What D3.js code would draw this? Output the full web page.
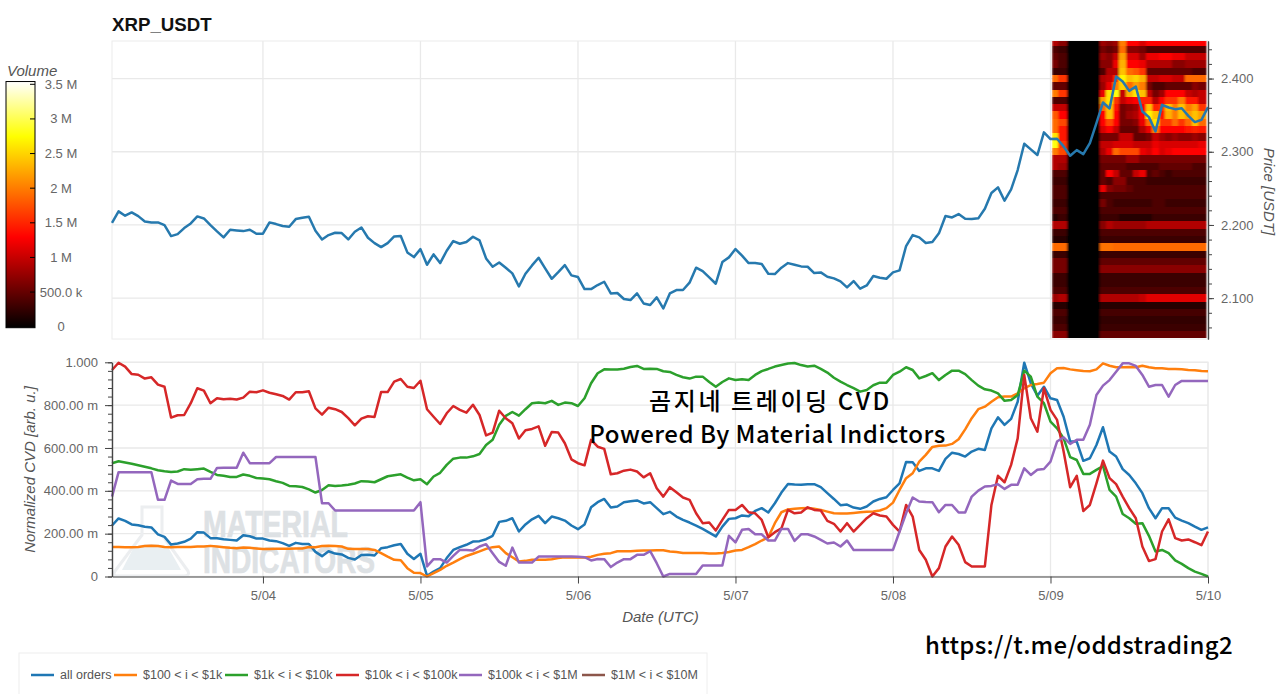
<!DOCTYPE html>
<html>
<head>
<title>XRP_USDT</title>
<meta charset="UTF-8">
<script src="https://d3js.org/d3.v7.min.js"></script>
<style>
	body { margin:0; background:#fff; }
	svg { display:block; }
	text { font-family:"Liberation Sans",Arial,sans-serif; }
	.tick text { font-size:13px; fill:#666; }
	.axis-title { font-size:15px; font-style:italic; fill:#555; }
	.legend-label { font-size:12.5px; fill:#555; }
	.overlay { font-family:"Noto Sans CJK KR","Noto Sans",sans-serif; font-weight:500; fill:#000; }
</style>
</head>
<body>
<script>
// hourly closes, first point is 5/03 01:00 UTC
var price = [2.203,2.2185,2.2126,2.2171,2.2121,2.2048,2.2035,2.2035,2.1998,2.1848,2.1875,2.1957,2.2021,2.2117,2.2089,2.1998,2.1912,2.183,2.1934,2.1925,2.1916,2.1934,2.188,2.188,
	2.2035,2.2012,2.1985,2.1975,2.208,2.2098,2.2112,2.1921,2.1802,2.1862,2.1894,2.1889,2.1802,2.1907,2.1966,2.1825,2.1752,2.1698,2.1752,2.1843,2.1848,2.1625,2.1561,2.167,
	2.1456,2.1598,2.1479,2.1648,2.178,2.1743,2.1766,2.1839,2.1789,2.1543,2.1429,2.1488,2.1415,2.1338,2.116,2.1333,2.1447,2.1552,2.1406,2.1265,2.1356,2.1452,2.1311,2.1288,
	2.1124,2.1124,2.1179,2.1224,2.1065,2.107,2.0988,2.0974,2.1065,2.0928,2.0906,2.101,2.086,2.1065,2.1111,2.1111,2.1211,2.1416,2.137,2.1284,2.1197,2.1493,2.1557,2.1671,
	2.158,2.1479,2.1479,2.1466,2.1334,2.1329,2.1416,2.1479,2.1457,2.1434,2.1429,2.1343,2.1352,2.1293,2.127,2.1229,2.1147,2.1234,2.1129,2.1174,2.1302,2.1279,2.1265,2.1352,
	2.1379,2.1712,2.1862,2.183,2.1753,2.1766,2.1885,2.2122,2.2103,2.2149,2.2085,2.2081,2.209,2.2222,2.2436,2.2513,2.2331,2.2486,2.275,2.311,2.3032,2.2955,2.3265,
	2.3173,2.3177,2.3073,2.2945,2.3023,2.2968,2.3118,2.3391,2.3673,2.3591,2.4027,2.3959,2.3832,2.3891,2.355,2.3473,2.3277,2.3641,2.3605,2.3582,2.3595,2.3491,2.3405,2.3436,2.3609];

// normalized CVD, in milli units
var allOrders = [238,271,260,243,239,232,229,197,185,149,154,162,177,207,205,179,179,174,171,168,193,188,177,177,168,165,156,143,157,152,152,115,95,118,107,103,87,79,100,101,98,132,137,146,152,106,82,106,
	3,23,39,86,124,137,148,163,165,174,190,255,260,272,210,243,267,283,249,280,272,261,238,221,243,323,347,362,322,327,347,351,355,341,347,319,291,302,280,264,252,238,222,205,187,233,269,272,285,
	281,306,319,299,342,392,432,429,428,431,431,417,389,362,333,336,322,316,327,350,362,370,404,435,535,533,493,505,505,493,549,578,572,560,583,
	596,591,692,743,708,736,816,998,902,844,886,832,824,746,630,630,540,552,614,697,583,560,501,474,435,389,319,272,319,319,275,261,249,233,218,229];
var from100 = [138,138,137,137,138,142,143,142,138,137,138,138,138,140,140,143,140,137,134,132,135,134,131,128,128,129,129,129,131,131,138,137,142,143,142,140,129,128,128,128,124,109,93,78,76,39,17,16,
	0,16,31,50,65,81,96,106,117,129,137,140,109,90,70,73,78,78,78,81,86,90,89,90,89,92,101,106,109,118,118,118,120,121,121,123,123,117,114,110,110,110,110,107,107,110,114,121,124,
	137,151,168,183,249,300,313,316,319,320,316,311,303,295,294,294,297,300,302,303,308,319,345,404,459,482,536,568,605,610,611,619,641,687,739,
	781,793,816,837,840,840,855,879,894,899,905,949,972,973,967,963,959,958,967,995,984,977,977,978,977,984,977,972,972,969,969,967,964,963,959,958];
var from1k = [529,538,532,526,519,512,505,496,491,488,490,501,498,501,504,488,474,470,465,465,476,470,460,457,454,445,437,423,421,418,407,392,404,426,423,425,428,434,445,443,440,454,468,473,477,462,449,454,
	431,467,484,521,550,555,555,561,572,614,638,708,750,768,751,781,809,812,809,820,801,812,809,796,832,902,949,967,966,966,970,978,983,969,970,969,958,955,941,930,924,933,933,908,886,908,925,917,921,
	917,941,959,969,980,987,994,997,987,980,984,969,952,928,910,894,879,863,871,893,905,905,941,956,977,964,925,936,949,917,941,961,961,945,917,
	891,874,868,855,820,824,847,961,933,840,809,723,692,645,557,544,479,479,498,516,404,373,292,272,246,249,190,117,124,109,75,59,39,23,12,0];
var from10k = [964,998,980,945,942,924,930,896,886,742,753,754,809,879,868,809,832,827,830,826,835,863,860,869,858,851,843,826,860,860,865,785,756,788,781,768,739,706,737,748,745,861,861,910,922,886,880,914,
	781,746,712,762,796,778,765,802,754,659,672,774,739,715,644,683,689,701,610,675,672,622,547,529,519,638,606,596,477,482,494,499,490,463,482,412,373,417,393,369,358,295,249,252,215,264,311,311,334,
	300,295,264,183,207,225,311,295,299,323,311,308,260,246,210,249,210,241,272,295,285,280,241,210,334,280,124,78,0,39,140,187,148,67,47,
	47,47,334,470,440,521,645,941,739,676,879,778,731,583,417,470,306,334,435,541,459,431,373,319,272,140,72,81,210,267,179,168,173,160,146,210];
var from100k = [373,487,487,487,487,487,487,358,358,448,432,432,432,454,456,456,507,508,508,508,578,529,529,529,529,558,558,558,558,558,558,558,342,342,308,308,308,308,308,308,308,308,308,308,308,308,308,347,
	47,81,81,65,96,124,124,121,140,151,109,68,50,135,65,65,65,93,93,93,93,93,93,92,90,75,82,81,44,65,81,81,101,101,118,62,0,12,12,12,12,12,51,51,51,51,190,159,218,
	222,197,197,168,168,222,222,166,197,197,187,171,154,159,140,168,124,124,124,124,124,124,124,210,295,369,350,348,347,300,334,334,299,299,373,
	401,420,423,431,409,428,428,505,474,498,502,536,630,650,619,638,638,708,847,891,917,956,995,995,983,941,886,894,894,840,894,913,913,913,913,913];

var seriesNames = ["all orders","$100 < i < $1k","$1k < i < $10k","$10k < i < $100k","$100k < i < $1M","$1M < i < $10M"];
var seriesColors = ["#1f77b4","#ff7f0e","#2ca02c","#d62728","#9467bd","#8c564b"];
var cvdSeries = [allOrders,from100,from1k,from10k,from100k];

var priceTicks = [2.1,2.2,2.3,2.4];
var cvdTicks = [0,200,400,600,800,1000];
var cvdLabels = ["0","200.00 m","400.00 m","600.00 m","800.00 m","1.000"];
var dayTicks = ["2025-05-04","2025-05-05","2025-05-06","2025-05-07","2025-05-08","2025-05-09","2025-05-10"];
var volumeTicks = [0,.5,1,1.5,2,2.5,3,3.5];
var volumeLabels = ["0","500.0 k","1 M","1.5 M","2 M","2.5 M","3 M","3.5 M"];

// order book heat, hours since the first point for column edges, million USDT per price level
var heatEdges = [143.2,144.2,145.5,150.5,151.5,152.5,153.5,154.5,155.5,156.5,157.5,158.5,159.5,160.5,161.5,162.5,163.5,164.5,165.5,166.8];
var heatLevels = [2.45,2.44,2.43,2.42,2.41,2.40,2.39,2.38,2.37,2.36,2.35,2.34,2.33,2.32,2.31,2.30,2.29,2.28,2.27,2.26,2.25,2.24,2.23,2.22,2.21,2.20,2.19,2.18,2.17,2.16,2.15,2.14,2.13,2.12,2.11,2.10,2.09,2.08,2.07,2.06,2.05];
var heatVolume = [
	[.9,.7,.03,.8,.7,.8,2,1.3,1.3,1.1,1.3,1.3,1.3,1.3,1.3,1.3,1.3,1.3,1.3],
	[.4,.3,.03,.6,.5,.6,1.9,.7,.7,.6,.4,.4,.4,.4,.4,.4,.4,.4,.4],
	[.5,.4,.03,.8,.7,1,2.2,1.1,1.1,.8,1.2,1.2,1.3,1.3,1.2,1.2,1,1,1],
	[.6,.4,.03,.7,.7,1.2,2.3,1.3,1.3,1.2,.9,.9,.9,.9,.7,.7,.8,.8,.8],
	[.3,.3,.03,.4,.9,.9,2.4,1.9,1.8,1.6,.5,.5,.5,.5,.5,.5,.5,.4,.4],
	[1.9,1.6,.03,.9,1,1.5,2.7,2.4,2.5,2.3,1,1,1.1,1.1,1,1,1.9,1.9,1.9],
	[.5,.5,.03,.8,1.2,2,2.5,1.9,2.2,2,.6,.4,.4,.5,.5,.5,.5,.7,.6],
	[2,1.6,.03,1.2,2.6,2.8,1,2.3,2.6,2.4,1,.6,.8,1.3,1.3,1.3,1,.9,1],
	[.4,.4,.03,2.2,2.6,1.6,1,1.2,1.3,1.5,1.5,.9,1.3,1.6,1.6,2,1.4,1.4,1],
	[1,1,.03,1.9,2.4,1.4,.6,.7,.8,1.3,2.4,1.5,1.6,2.4,2,2.4,2,2.2,1.6],
	[1.8,1.3,.03,1.3,2.4,1.3,.6,.8,.9,1.3,2.7,2.4,1.4,2.3,2,2.4,2.2,2.4,2.2],
	[1.9,1.7,.03,1.3,1.7,1.3,.6,.6,.7,1.2,1.9,2.6,1.6,1.6,1.9,1.6,1.9,2.4,1.9],
	[1.9,1.4,.03,1.1,1.3,1,.5,.5,.5,.9,1.2,2,1.3,1.3,1.3,1.3,1.4,1.5,1.4],
	[2.6,1.4,.03,.6,.6,.6,1,1,.5,.5,.6,1,.8,.7,.8,.7,.7,.8,.7],
	[2.8,1.6,.03,1,1,1.1,1.1,1.1,1,1,1,1.2,1.1,1.1,1.1,1.1,1.1,1.1,1.2],
	[2,1.7,.03,.9,1.2,1.9,1.7,1.7,1.7,1.2,1.1,1.3,1.1,1.2,1.3,1.3,1.3,1.3,1.3],
	[.9,.9,.03,.6,.6,.6,.6,.8,.8,.6,.6,.6,.6,.6,.6,.6,.6,.6,.6],
	[.9,.8,.03,.5,.5,.5,.5,.4,.4,.4,.4,.4,.5,.5,.5,.5,.5,.4,.4],
	[.4,.4,.03,.5,1.3,1,.5,.5,1,1.2,.4,.5,.4,.3,.4,.4,.4,.4,.4],
	[.3,.3,.03,.5,.4,.7,.7,.4,.4,.4,.3,.3,.3,.3,.3,.3,.3,.3,.3],
	[.4,.4,.03,1.2,.7,.6,.6,.5,.4,.4,.4,.4,.4,.4,.4,.4,.4,.4,.4],
	[.4,.4,.03,.4,.4,.4,.4,.4,.4,.4,.4,.4,.4,.4,.4,.4,.4,.4,.4],
	[.3,.3,.03,.6,.4,.3,.3,.3,.3,.3,.3,.4,.4,.3,.3,.3,.3,.3,.3],
	[.4,.4,.03,.4,.4,.4,.4,.4,.4,.4,.4,.4,.4,.4,.4,.4,.4,.4,.4],
	[.2,.3,.03,.3,.3,.3,.2,.2,.2,.2,.2,.3,.3,.3,.3,.3,.3,.3,.3],
	[.9,.9,.03,.7,.9,.8,.8,.8,.8,.8,.9,.9,.9,.9,.9,.9,.9,.9,.9],
	[.3,.3,.03,.4,.4,.4,.4,.4,.4,.4,.4,.4,.4,.4,.4,.4,.4,.4,.4],
	[.2,.2,.03,.3,.3,.3,.3,.3,.3,.3,.3,.3,.3,.3,.3,.3,.3,.3,.3],
	[1.9,1.9,.03,1.95,1.95,1.9,1.9,1.9,1.9,1.9,1.9,1.9,1.9,1.9,1.9,1.9,1.9,1.9,1.9],
	[.3,.3,.03,.3,.3,.3,.3,.3,.3,.3,.3,.3,.3,.3,.3,.3,.3,.3,.3],
	[.6,.6,.03,.5,.5,.5,.5,.5,.5,.5,.5,.5,.5,.5,.5,.5,.5,.5,.5],
	[.6,.6,.03,.7,.7,.7,.7,.7,.7,.7,.7,.7,.7,.7,.7,.7,.7,.7,.7],
	[.3,.3,.03,.3,.3,.3,.3,.3,.3,.3,.3,.3,.3,.3,.3,.3,.3,.3,.3],
	[.3,.3,.03,.3,.3,.3,.3,.3,.3,.3,.3,.3,.3,.3,.3,.3,.3,.3,.3],
	[.4,.4,.03,.4,.4,.4,.4,.4,.4,.4,.4,.4,.4,.4,.4,.4,.4,.4,.4],
	[.8,.9,.03,.9,.9,.9,.9,.9,.9,1,1.15,1.15,1.15,1.15,1.15,1.15,1.15,1.15,1.15],
	[.2,.2,.03,.2,.2,.2,.2,.2,.2,.2,.2,.2,.2,.2,.2,.2,.2,.2,.2],
	[.4,.4,.03,.35,.35,.35,.35,.35,.35,.35,.35,.35,.35,.35,.35,.35,.35,.35,.35],
	[.3,.3,.03,.25,.25,.25,.25,.25,.25,.25,.25,.25,.25,.25,.25,.25,.25,.25,.25],
	[.4,.4,.03,.3,.3,.3,.3,.3,.3,.3,.3,.3,.3,.3,.3,.3,.3,.3,.3],
	[.7,.7,.03,.5,.5,.5,.5,.5,.5,.5,.5,.5,.5,.5,.5,.5,.5,.5,.5]
];

var startTime = new Date(Date.UTC(2025,4,3,1));
function hourToDate(h) { return new Date(startTime.getTime() + h*3600000); }
var dayDates = dayTicks.map(function(d) { return new Date(d + "T00:00:00Z"); });

var svg = d3.select("body").append("svg").attr("width",1280).attr("height",694);

var x = d3.scaleUtc().domain([hourToDate(0),hourToDate(167)]).range([112,1208]);
var yPrice = d3.scaleLinear().domain([2.0442,2.4513]).range([339,41]);
var yCvd = d3.scaleLinear().domain([0,1000]).range([576.5,362.3]);
var heatColor = d3.scaleLinear().domain([0,1.3,2.75,3.54]).range(["#000000","#ff0000","#ffff00","#ffffff"]);

// panels and grid
function drawGrid(y,ticks,top,bottom) {
	var g = svg.append("g").attr("stroke","#e9e9e9").attr("stroke-width",1.3);
	g.selectAll(".h").data(ticks).enter().append("line")
		.attr("x1",112).attr("x2",1208).attr("y1",function(d) { return y(d); }).attr("y2",function(d) { return y(d); });
	g.selectAll(".v").data(dayDates).enter().append("line")
		.attr("y1",top).attr("y2",bottom).attr("x1",function(d) { return x(d); }).attr("x2",function(d) { return x(d); });
	svg.append("rect").attr("x",112).attr("y",top).attr("width",1096).attr("height",bottom-top)
		.attr("fill","none").attr("stroke","#ececec");
}
drawGrid(yPrice,priceTicks,41,339);
drawGrid(yCvd,cvdTicks,362,576.5);

// watermark
var mark = svg.append("g");
mark.append("path").attr("d","M142 507H162V535L188 571Q190 576 184 576H118Q112 576 115 571L142 535Z")
	.attr("fill","none").attr("stroke","#eceef0").attr("stroke-width",3);
mark.append("path").attr("d","M134 547Q150 541 168 547L181 570H122Z").attr("fill","#e9eff2");
mark.append("text").attr("x",203).attr("y",537).attr("textLength",145).attr("lengthAdjust","spacingAndGlyphs")
	.attr("fill","#dde1e4").attr("stroke","#dde1e4").attr("stroke-width",.7)
	.style("font-family","'Liberation Sans Narrow','Liberation Sans'").style("font-weight",700).style("font-size","36px").text("MATERIAL");
mark.append("text").attr("x",203).attr("y",573).attr("textLength",172).attr("lengthAdjust","spacingAndGlyphs")
	.attr("fill","#dde1e4").attr("stroke","#dde1e4").attr("stroke-width",.7)
	.style("font-family","'Liberation Sans Narrow','Liberation Sans'").style("font-weight",700).style("font-size","36px").text("INDICATORS");

// heat map, softened a little like the source
var soften = svg.append("filter").attr("id","soften").attr("x","-2%").attr("y","-2%").attr("width","104%").attr("height","104%");
soften.append("feGaussianBlur").attr("stdDeviation","0.9 0.4");
svg.append("clipPath").attr("id","priceClip").append("rect").attr("x",x(hourToDate(heatEdges[0]))).attr("y",41)
	.attr("width",x(hourToDate(heatEdges[19]))-x(hourToDate(heatEdges[0]))).attr("height",298);
var heatClip = svg.append("g").attr("clip-path","url(#priceClip)");
var heat = heatClip.append("g").attr("filter","url(#soften)").attr("shape-rendering","crispEdges");
heatVolume.forEach(function(row,r) {
	heat.selectAll(".c"+r).data(row).enter().append("rect")
		.attr("x",function(d,c) { return x(hourToDate(heatEdges[c])); })
		.attr("width",function(d,c) { return x(hourToDate(heatEdges[c+1])) - x(hourToDate(heatEdges[c])); })
		.attr("y",yPrice(heatLevels[r]+.005))
		.attr("height",yPrice(heatLevels[r]-.005) - yPrice(heatLevels[r]+.005))
		.attr("fill",function(d) { return heatColor(d); });
});

// lines
var priceLine = d3.line().x(function(d,i) { return x(hourToDate(i)); }).y(function(d) { return yPrice(d); });
svg.append("path").datum(price).attr("d",priceLine).attr("fill","none").attr("stroke","#2679ae").attr("stroke-width",2.5).attr("stroke-linejoin","round");

var cvdLine = d3.line().x(function(d,i) { return x(hourToDate(i)); }).y(function(d) { return yCvd(d); });
svg.selectAll(".cvd").data(cvdSeries).enter().append("path")
	.attr("class","cvd").attr("d",cvdLine).attr("fill","none")
	.attr("stroke",function(d,i) { return seriesColors[i]; }).attr("stroke-width",2.5).attr("stroke-linejoin","round");

// axes
function styleAxis(g) {
	g.selectAll("path,line").attr("stroke","#444");
	g.select(".domain").attr("stroke-width",1.2);
}
var priceAxis = svg.append("g").attr("transform","translate(1208,0)")
	.call(d3.axisRight(yPrice).tickValues(d3.range(2.06,2.45,.02)).tickSize(4).tickSizeOuter(0).tickFormat(""));
styleAxis(priceAxis);
var priceMajor = svg.append("g").attr("transform","translate(1208,0)")
	.call(d3.axisRight(yPrice).tickValues(priceTicks).tickSize(6).tickSizeOuter(0).tickPadding(7).tickFormat(d3.format(".3f")));
styleAxis(priceMajor);

var cvdMinor = svg.append("g").attr("transform","translate(112,0)")
	.call(d3.axisLeft(yCvd).tickValues(d3.range(0,1001,40)).tickSize(4).tickSizeOuter(0).tickFormat(""));
styleAxis(cvdMinor);
var cvdMajor = svg.append("g").attr("transform","translate(112,0)")
	.call(d3.axisLeft(yCvd).tickValues(cvdTicks).tickSize(7).tickSizeOuter(0).tickPadding(7)
		.tickFormat(function(d,i) { return cvdLabels[i]; }));
styleAxis(cvdMajor);

var dateAxis = svg.append("g").attr("transform","translate(0,576.5)")
	.call(d3.axisBottom(x).tickValues(dayDates).tickSize(7).tickSizeOuter(0).tickPadding(7).tickFormat(d3.utcFormat("%-m/%d")));
styleAxis(dateAxis);

// colour bar
var yVolume = d3.scaleLinear().domain([0,3.5]).range([326.7,84.3]);
var gradient = svg.append("linearGradient").attr("id","volumeGradient").attr("x1",0).attr("x2",0).attr("y1",1).attr("y2",0);
gradient.selectAll("stop").data(heatColor.domain()).enter().append("stop")
	.attr("offset",function(d) { return d/3.54; }).attr("stop-color",function(d) { return heatColor(d); });
svg.append("rect").attr("x",6).attr("y",yVolume(3.54)).attr("width",29).attr("height",yVolume(0)-yVolume(3.54)+1)
	.attr("fill","url(#volumeGradient)").attr("stroke","#000");
var volumeAxis = svg.append("g");
volumeAxis.selectAll("line").data(volumeTicks.slice(1)).enter().append("line")
	.attr("x1",30).attr("x2",35).attr("y1",function(d) { return yVolume(d); }).attr("y2",function(d) { return yVolume(d); }).attr("stroke","#000");
volumeAxis.selectAll("text").data(volumeTicks).enter().append("text")
	.attr("x",61).attr("y",function(d) { return yVolume(d); }).attr("dy",".35em").attr("text-anchor","middle")
	.style("font-size","13px").attr("fill","#666").text(function(d,i) { return volumeLabels[i]; });

// titles
svg.append("text").attr("x",112).attr("y",31).style("font-size","18.7px").style("font-weight",700).attr("fill","#111").text("XRP_USDT");
svg.append("text").attr("class","axis-title").attr("x",7).attr("y",76).text("Volume");
svg.append("text").attr("class","axis-title").attr("transform","translate(1264,191.5) rotate(90)").attr("text-anchor","middle").text("Price [USDT]");
svg.append("text").attr("class","axis-title").attr("transform","translate(35,469.5) rotate(-90)").attr("text-anchor","middle").text("Normalized CVD [arb. u.]");
svg.append("text").attr("class","axis-title").attr("x",660.5).attr("y",622).attr("text-anchor","middle").text("Date (UTC)");

// legend
var legendX = [31,114,225,336,459,582];
svg.append("rect").attr("x",19).attr("y",653).attr("width",688).attr("height",48).attr("fill","#fff").attr("stroke","#eee");
var legend = svg.selectAll(".legend").data(seriesNames).enter().append("g")
	.attr("class","legend").attr("transform",function(d,i) { return "translate("+legendX[i]+",675)"; });
legend.append("line").attr("x2",23).attr("stroke",function(d,i) { return seriesColors[i]; }).attr("stroke-width",2.5);
legend.append("text").attr("class","legend-label").attr("x",29).attr("dy",".35em").text(function(d) { return d; });

// notes pasted over the chart
svg.append("text").attr("class","overlay").attr("x",770.5).attr("y",410).attr("text-anchor","middle").style("font-size","24px").style("letter-spacing","2.6px").text("곰지네 트레이딩 CVD");
svg.append("text").attr("class","overlay").attr("x",767.5).attr("y",443).attr("text-anchor","middle").style("font-size","24px").style("letter-spacing","0.52px").text("Powered By Material Indictors");
svg.append("text").attr("class","overlay").attr("x",1079).attr("y",654).attr("text-anchor","middle").style("font-size","24px").style("letter-spacing","0.3px").text("https://t.me/oddstrading2");
</script>
</body>
</html>
